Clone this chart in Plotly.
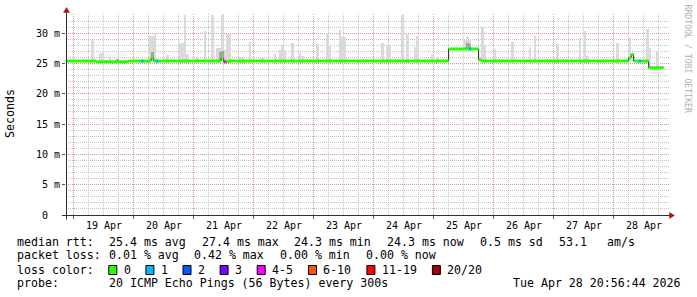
import plotly.graph_objects as go
import pandas as pd

# ---------------- data ----------------
# median RTT: time at which a new hourly level starts, value in ms (last entry = end of data)
median_times = ["2026-04-18 21:00", "2026-04-19 09:00", "2026-04-19 22:00", "2026-04-20 07:00",
                "2026-04-20 08:00", "2026-04-21 11:00", "2026-04-21 12:00", "2026-04-21 14:00",
                "2026-04-25 06:00", "2026-04-25 18:00", "2026-04-25 19:00", "2026-04-28 06:00",
                "2026-04-28 07:00", "2026-04-28 08:00", "2026-04-28 14:00", "2026-04-28 20:00"]
median_ms = [25.4, 25.3, 25.4, 25.9, 25.4, 25.9, 25.3, 25.4,
             27.4, 25.6, 25.4, 25.9, 26.5, 25.4, 24.3, 24.3]

# hours with packet loss (count of lost pings out of 20)
loss_times = ["2026-04-20 03:00", "2026-04-20 09:00", "2026-04-21 12:00",
              "2026-04-25 14:00", "2026-04-28 10:00"]
loss_counts = [1, 1, 4, 1, 1]

# smoke: highest ping per hour (ms), light grey
smoke_times = ["2026-04-19 07:00", "2026-04-19 10:00", "2026-04-19 11:00", "2026-04-19 14:00",
               "2026-04-19 17:00", "2026-04-20 06:00", "2026-04-20 07:00", "2026-04-20 08:00",
               "2026-04-20 13:00", "2026-04-20 18:00", "2026-04-20 19:00", "2026-04-20 20:00",
               "2026-04-20 21:00", "2026-04-21 01:00", "2026-04-21 04:00", "2026-04-21 07:00",
               "2026-04-21 09:00", "2026-04-21 10:00", "2026-04-21 11:00", "2026-04-21 12:00",
               "2026-04-21 13:00", "2026-04-21 14:00", "2026-04-21 18:00", "2026-04-21 19:00",
               "2026-04-21 22:00", "2026-04-22 03:00", "2026-04-22 08:00", "2026-04-22 10:00",
               "2026-04-22 11:00", "2026-04-22 12:00", "2026-04-22 15:00", "2026-04-22 18:00",
               "2026-04-22 19:00", "2026-04-23 01:00", "2026-04-23 05:00", "2026-04-23 06:00",
               "2026-04-23 10:00", "2026-04-23 11:00", "2026-04-23 12:00", "2026-04-24 03:00",
               "2026-04-24 05:00", "2026-04-24 06:00", "2026-04-24 11:00", "2026-04-24 13:00",
               "2026-04-24 16:00", "2026-04-24 17:00", "2026-04-24 23:00", "2026-04-25 01:00",
               "2026-04-25 12:00", "2026-04-25 13:00", "2026-04-25 14:00", "2026-04-25 19:00",
               "2026-04-25 20:00", "2026-04-26 00:00", "2026-04-26 07:00", "2026-04-26 14:00",
               "2026-04-26 16:00", "2026-04-27 00:00", "2026-04-27 01:00", "2026-04-27 10:00",
               "2026-04-27 12:00", "2026-04-27 13:00", "2026-04-27 18:00", "2026-04-28 01:00",
               "2026-04-28 06:00", "2026-04-28 13:00", "2026-04-28 14:00", "2026-04-28 17:00"]
smoke_top_ms = [29.0, 26.7, 26.7, 26.0,
                25.8, 29.5, 29.5, 30.1,
                26.4, 28.3, 28.3, 34.0,
                26.6, 26.1, 30.3, 34.0,
                27.6, 27.6, 34.0, 27.2,
                29.8, 29.8, 26.0, 26.0,
                28.6, 25.9, 26.5, 27.2,
                28.1, 27.2, 28.4, 26.8,
                26.2, 28.2, 30.1, 27.9,
                30.6, 29.3, 29.3, 28.4,
                28.0, 28.0, 34.0, 29.8,
                27.7, 29.6, 26.5, 26.1,
                28.9, 29.3, 28.9, 31.0,
                28.0, 27.4, 28.6, 27.7,
                29.5, 25.8, 28.2, 29.2,
                30.3, 26.3, 25.6, 28.4,
                29.2, 30.7, 27.6, 27.0]

# smoke: denser inner pings (ms), darker grey
smoke_dark_times = ["2026-04-19 17:00", "2026-04-20 07:00", "2026-04-21 10:00",
                    "2026-04-21 11:00", "2026-04-25 13:00", "2026-04-25 14:00"]
smoke_dark_top_ms = [25.8, 26.9, 26.9, 27.0, 28.3, 28.2]

loss_bins = [0, 1, 2, 3, 5, 10, 19, 20]
loss_labels = ["0", "1", "2", "3", "4-5", "6-10", "11-19", "20/20"]
loss_colors = ["#26ff00", "#00b8ff", "#0059ff", "#7e00ff", "#ff00ff", "#ff5500", "#ff0000", "#a10000"]

day_labels = ["19 Apr", "20 Apr", "21 Apr", "22 Apr", "23 Apr",
              "24 Apr", "25 Apr", "26 Apr", "27 Apr", "28 Apr"]
y_ticks_ms = [0, 5, 10, 15, 20, 25, 30]
y_tick_text = ["0\u00a0\u00a0", "5\u00a0m", "10\u00a0m", "15\u00a0m", "20\u00a0m", "25\u00a0m", "30\u00a0m"]

# legend pieces: (text, left x in px, row)
legend_items = [
    ("median rtt:", 16, 0), ("25.4 ms avg", 107.5, 0), ("27.4 ms max", 200.5, 0),
    ("24.3 ms min", 293, 0), ("24.3 ms now", 386, 0), ("0.5 ms sd", 478.5, 0),
    ("53.1", 557.5, 0), ("am/s", 606, 0),
    ("packet loss:", 16, 1), ("0.01 % avg", 107.5, 1), ("0.42 % max", 193, 1),
    ("0.00 % min", 279, 1), ("0.00 % now", 364.5, 1),
    ("loss color:", 16, 2),
    ("probe:", 16, 3), ("20 ICMP Echo Pings (56 Bytes) every 300s", 107.5, 3),
]
stamp_text = "Tue Apr 28 20:56:44 2026"

# ---------------- geometry ----------------
W, H = 697, 297
PL, PR, PT, PB = 66, 669, 15, 215
START = pd.Timestamp("2026-04-18 20:56:44")
X_END = START + pd.Timedelta(minutes=24 * (PR - PL))
Y_MAX = 0.033
MONO = "DejaVu Sans Mono"
FS = 11.6
HOUR = pd.Timedelta(hours=1)


def px(x):
    return (x - PL) / (PR - PL)


def py(y):
    return (PB - y) / (PB - PT)


def t2px(t):
    return PL + (t - START) / pd.Timedelta(minutes=24)


def loss_color(n):
    for b, c in zip(loss_bins, loss_colors):
        if n <= b:
            return c
    return loss_colors[-1]


med_idx = pd.to_datetime(median_times)
med_series = pd.Series(median_ms, index=med_idx).resample("1h").ffill()

fig = go.Figure()

# smoke (light)
st = pd.to_datetime(smoke_times)
base = [med_series[t] / 1000 - 0.00025 for t in st]
fig.add_trace(go.Bar(x=st, y=[v / 1000 - b for v, b in zip(smoke_top_ms, base)], base=base,
                     width=3600 * 1000, offset=0, marker=dict(color="#dadada", line=dict(width=0)),
                     hoverinfo="skip"))
# smoke (dark)
sdt = pd.to_datetime(smoke_dark_times)
based = [med_series[t] / 1000 for t in sdt]
fig.add_trace(go.Bar(x=sdt, y=[v / 1000 - b for v, b in zip(smoke_dark_top_ms, based)], base=based,
                     width=3600 * 1000, offset=0, marker=dict(color="#a4a4a4", line=dict(width=0)),
                     hoverinfo="skip"))

# median thin dark line (step)
fig.add_trace(go.Scatter(x=med_idx, y=[v / 1000 for v in median_ms], mode="lines",
                         line=dict(color="#202020", width=1, shape="hv"), hoverinfo="skip"))

# loss-coloured band (horizontal parts only)
bx, by = [], []
for i in range(len(med_idx) - 1):
    bx += [med_idx[i], med_idx[i + 1], None]
    by += [median_ms[i] / 1000, median_ms[i] / 1000, None]
fig.add_trace(go.Scatter(x=bx, y=by, mode="lines", line=dict(color=loss_colors[0], width=3),
                         hoverinfo="skip", connectgaps=False))
for t, n in zip(pd.to_datetime(loss_times), loss_counts):
    m = med_series[t] / 1000
    fig.add_trace(go.Scatter(x=[t, t + HOUR], y=[m, m], mode="lines",
                             line=dict(color=loss_color(n), width=3), hoverinfo="skip"))

midnights = pd.date_range("2026-04-19", periods=10, freq="D")
GRID = "#c4c4c4"
MGRID = "#e29595"

fig.update_layout(
    width=W, height=H, margin=dict(l=PL, r=W - PR, t=PT, b=H - PB),
    paper_bgcolor="white", plot_bgcolor="white", showlegend=False,
    barmode="overlay", bargap=0,
    font=dict(family=MONO, size=10, color="black"),
)
fig.update_xaxes(
    type="date", range=[START, X_END], tickmode="array", tickvals=midnights,
    ticktext=[""] * len(midnights), showgrid=False, zeroline=False, showline=False,
    ticks="outside", ticklen=3, tickcolor="#555",
)
fig.update_yaxes(
    range=[0, Y_MAX], tickmode="array", tickvals=[v / 1000 for v in y_ticks_ms], ticktext=y_tick_text,
    showgrid=False, zeroline=False, showline=False,
    ticks="outside", ticklen=3, tickcolor="#555", tickfont=dict(family=MONO, size=10),
)

shapes = []
DOT = "1px,1px"
# vertical grid every 6 hours (crisp pixel columns)
for t in pd.date_range("2026-04-18 00:00", "2026-04-29 00:00", freq="6h"):
    xx = t2px(t)
    if xx < PL + 1 or xx > PR:
        continue
    xc = int(xx) + 0.5
    major = t.hour == 0
    shapes.append(dict(type="line", xref="paper", yref="paper", x0=px(xc), x1=px(xc),
                       y0=py(PB), y1=py(13), layer="below",
                       line=dict(color=MGRID if major else GRID, width=1, dash=DOT)))
# horizontal grid every 1 ms
for v in range(1, 33):
    yy = PB - v / 1000 / Y_MAX * (PB - PT)
    yc = int(yy) + 0.5
    major = v % 5 == 0
    shapes.append(dict(type="line", xref="paper", yref="paper", x0=px(PL), x1=px(PR),
                       y0=py(yc), y1=py(yc), layer="below",
                       line=dict(color=MGRID if major else GRID, width=1, dash=DOT)))

AX = "#303030"
ARROW = "#a01818"
# axis lines
shapes.append(dict(type="line", xref="paper", yref="paper", x0=px(66.5), x1=px(66.5),
                   y0=py(219.5), y1=py(11), line=dict(color=AX, width=1)))
shapes.append(dict(type="line", xref="paper", yref="paper", x0=px(62), x1=px(670),
                   y0=py(215.5), y1=py(215.5), line=dict(color=AX, width=1)))
# arrows
shapes.append(dict(type="path", xref="paper", yref="paper",
                   path=f"M {px(63.5)},{py(12.5)} L {px(66.5)},{py(7.5)} L {px(69.5)},{py(12.5)} Z",
                   fillcolor=ARROW, line=dict(color=ARROW, width=0.5)))
shapes.append(dict(type="path", xref="paper", yref="paper",
                   path=f"M {px(669.5)},{py(212.5)} L {px(674.5)},{py(215.5)} L {px(669.5)},{py(218.5)} Z",
                   fillcolor=ARROW, line=dict(color=ARROW, width=0.5)))

annotations = []
# day labels at noon
for d, lab in zip(midnights, day_labels):
    annotations.append(dict(x=d + pd.Timedelta(hours=12), y=py(225.5), xref="x", yref="paper",
                            text=lab, showarrow=False, xanchor="center", yanchor="middle",
                            font=dict(family=MONO, size=10, color="black"), borderpad=0))
# axis title
annotations.append(dict(x=px(10), y=py(114), xref="paper", yref="paper", text="Seconds",
                        textangle=-90, showarrow=False, xanchor="center", yanchor="middle",
                        font=dict(family=MONO, size=FS, color="black")))
# watermark
annotations.append(dict(x=px(687.5), y=py(59), xref="paper", yref="paper",
                        text="RRDTOOL / TOBI OETIKER", textangle=90, showarrow=False,
                        xanchor="center", yanchor="middle",
                        font=dict(family=MONO, size=8.2, color="#b0b0b0")))

row_y = [241.7, 255.2, 269.5, 283]
for txt, xx, r in legend_items:
    annotations.append(dict(x=px(xx), y=py(row_y[r]), xref="paper", yref="paper",
                            text=txt.replace(" ", "\u00a0"), showarrow=False, xanchor="left",
                            yanchor="middle", borderpad=0,
                            font=dict(family=MONO, size=FS, color="black")))
annotations.append(dict(x=px(681.5), y=py(283), xref="paper", yref="paper",
                        text=stamp_text.replace(" ", "\u00a0"),
                        showarrow=False, xanchor="right", yanchor="middle", borderpad=0,
                        font=dict(family=MONO, size=FS, color="black")))

# loss colour legend boxes + labels
CH = 7.1
lab_x = 122.5
for lab, col in zip(loss_labels, loss_colors):
    bx0 = lab_x - 14.2
    shapes.append(dict(type="rect", xref="paper", yref="paper", x0=px(bx0 + 0.5), x1=px(bx0 + 8.5),
                       y0=py(274.5), y1=py(265.5), fillcolor=col, line=dict(color="black", width=1)))
    annotations.append(dict(x=px(lab_x), y=py(269.5), xref="paper", yref="paper", text=lab,
                            showarrow=False, xanchor="left", yanchor="middle", borderpad=0,
                            font=dict(family=MONO, size=FS, color="black")))
    lab_x += 30 + CH * len(lab)

fig.update_layout(shapes=shapes, annotations=annotations)
fig.write_html("out.html")
